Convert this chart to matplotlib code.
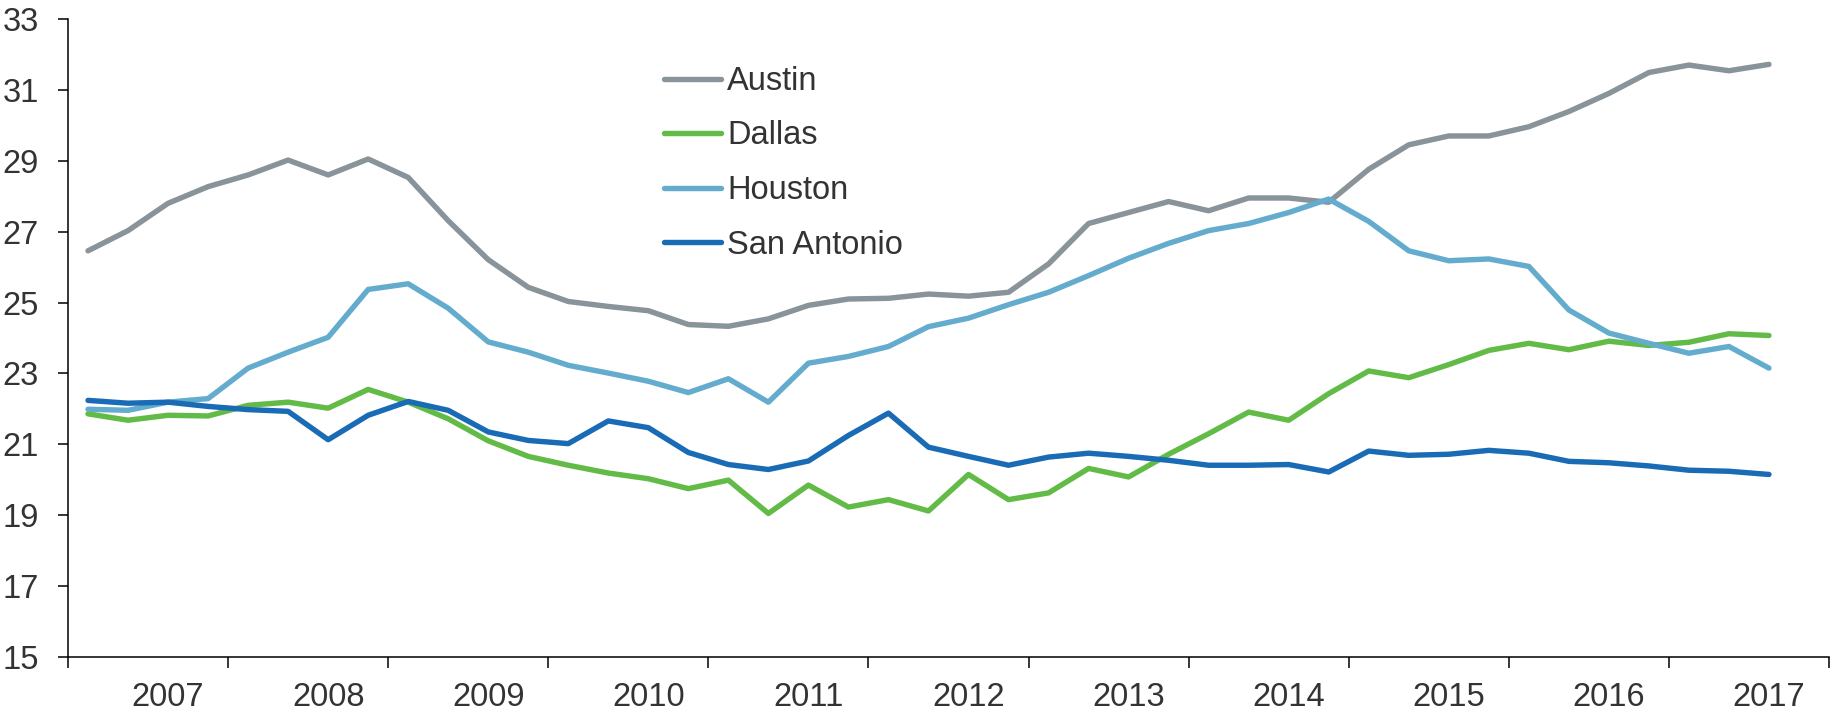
import matplotlib
matplotlib.use("Agg")
import matplotlib.pyplot as plt
import numpy as np

# Quarterly values, 43 quarters; one year label every 4 quarters
years = ["2007", "2008", "2009", "2010", "2011", "2012",
         "2013", "2014", "2015", "2016", "2017"]

austin = [26.46, 27.03, 27.80, 28.27, 28.60, 29.02, 28.60, 29.05, 28.53, 27.31,
          26.21, 25.43, 25.03, 24.89, 24.77, 24.38, 24.33, 24.54, 24.92, 25.10,
          25.12, 25.24, 25.18, 25.29, 26.09, 27.23, 27.54, 27.85, 27.59, 27.95,
          27.95, 27.83, 28.76, 29.45, 29.70, 29.70, 29.96, 30.39, 30.90, 31.49,
          31.70, 31.54, 31.72]

dallas = [21.86, 21.68, 21.82, 21.80, 22.10, 22.19, 22.02, 22.55, 22.19, 21.72,
          21.10, 20.66, 20.41, 20.19, 20.03, 19.75, 19.99, 19.05, 19.85, 19.23,
          19.44, 19.12, 20.15, 19.44, 19.63, 20.32, 20.08, 20.72, 21.30, 21.91,
          21.68, 22.43, 23.07, 22.88, 23.25, 23.65, 23.85, 23.67, 23.91, 23.79,
          23.88, 24.12, 24.07]

houston = [21.99, 21.96, 22.19, 22.29, 23.15, 23.60, 24.02, 25.37, 25.53, 24.84,
           23.89, 23.60, 23.23, 23.01, 22.78, 22.46, 22.85, 22.19, 23.29, 23.48,
           23.76, 24.32, 24.56, 24.94, 25.29, 25.76, 26.25, 26.67, 27.03, 27.23,
           27.54, 27.92, 27.29, 26.46, 26.18, 26.23, 26.02, 24.79, 24.14, 23.85,
           23.57, 23.76, 23.15]

san_antonio = [22.24, 22.16, 22.19, 22.07, 21.98, 21.93, 21.13, 21.82, 22.21, 21.96,
               21.35, 21.11, 21.02, 21.66, 21.47, 20.77, 20.43, 20.29, 20.53, 21.25,
               21.88, 20.92, 20.66, 20.41, 20.64, 20.75, 20.66, 20.55, 20.41, 20.41,
               20.43, 20.22, 20.81, 20.69, 20.72, 20.83, 20.75, 20.52, 20.48, 20.39,
               20.27, 20.24, 20.15]

SERIES = [
    ("Austin", austin, "#89939a"),
    ("Dallas", dallas, "#63bb47"),
    ("Houston", houston, "#64acce"),
    ("San Antonio", san_antonio, "#1a6bb5"),
]

TEXT = "#333333"
FS = 23.5
plt.rcParams["font.family"] = ["Liberation Sans", "DejaVu Sans"]

fig = plt.figure(figsize=(18.33, 7.11), dpi=100)
ax = fig.add_axes([68 / 1833, 54 / 711, 1761 / 1833, 638 / 711])

x = np.arange(len(austin))
for name, vals, color in SERIES:
    ax.plot(x, vals, color=color, lw=3.9, label=name,
            solid_capstyle="round", solid_joinstyle="round")

# axes
ax.set_ylim(15, 33)
ax.set_yticks(np.arange(15, 34, 2))
ax.set_xlim(-0.5, len(years) * 4 - 0.5)
ax.set_xticks(np.arange(len(years) + 1) * 4 - 0.5)
ax.set_xticklabels([])
ax.set_xticks(np.arange(len(years)) * 4 + 2, minor=True)
ax.set_xticklabels(years, minor=True)

for side in ("top", "right"):
    ax.spines[side].set_visible(False)
for side in ("left", "bottom"):
    ax.spines[side].set_linewidth(1.1)
    ax.spines[side].set_color("black")

ax.tick_params(axis="y", direction="out", length=7, width=1.1,
               labelsize=FS, labelcolor=TEXT, pad=14)
ax.tick_params(axis="x", which="major", direction="out", length=8, width=1.1)
ax.tick_params(axis="x", which="minor", length=0, labelsize=FS,
               labelcolor=TEXT, pad=18)

leg = ax.legend(loc="upper left", bbox_to_anchor=(664 / 1833, 1 - 66 / 711),
                bbox_transform=fig.transFigure, frameon=False, fontsize=FS,
                handlelength=1.75, handletextpad=0.18, labelspacing=0.72,
                borderpad=0, borderaxespad=0)
for t in leg.get_texts():
    t.set_color(TEXT)

fig.savefig("out.png", dpi=100)
